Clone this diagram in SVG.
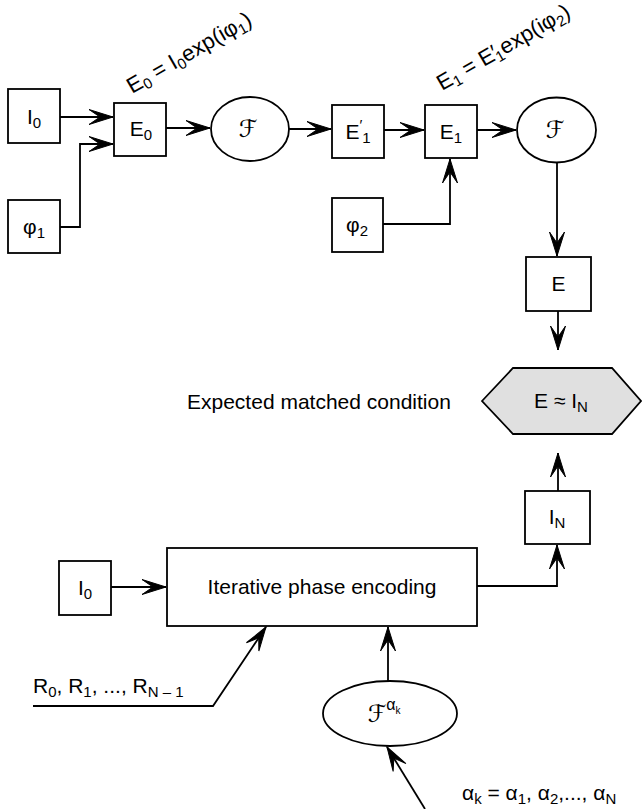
<svg xmlns="http://www.w3.org/2000/svg" width="642" height="809" viewBox="0 0 642 809">
<style>
.b{fill:#fff;stroke:#000;stroke-width:1.8}
.c{fill:none;stroke:#000;stroke-width:1.8}
.t{font-family:"Liberation Sans",Arial,sans-serif;font-size:21px;fill:#000}
.r{font-size:22px}
.tc{text-anchor:middle}
.f{font-family:"DejaVu Serif","DejaVu Sans",serif;font-style:italic;font-size:24px;fill:#000;text-anchor:middle}
.s{font-size:15px}
</style>
<defs>
<marker id="a" markerUnits="userSpaceOnUse" markerWidth="28" markerHeight="20" viewBox="-26 -10 28 20" refX="0" refY="0" orient="auto">
<path d="M0,0 L-24,-7.5 L-13,0 L-24,7.5 Z" fill="#000" stroke="#000" stroke-width="1" stroke-linejoin="miter"/>
</marker>
</defs>
<rect width="642" height="809" fill="#fff"/>
<g id="connectors">
<path class="c" d="M60,117 H113" marker-end="url(#a)"/>
<path class="c" d="M60,227 H80 V144 H113" marker-end="url(#a)"/>
<path class="c" d="M166,128 H210" marker-end="url(#a)"/>
<path class="c" d="M289,129 H331" marker-end="url(#a)"/>
<path class="c" d="M384,130 H424" marker-end="url(#a)"/>
<path class="c" d="M477,130 H516" marker-end="url(#a)"/>
<path class="c" d="M383,224 H450 V159" marker-end="url(#a)"/>
<path class="c" d="M557,163 V256" marker-end="url(#a)"/>
<path class="c" d="M558,311 V350" marker-end="url(#a)"/>
<path class="c" d="M558,491 V453" marker-end="url(#a)"/>
<path class="c" d="M477,586 H557 V545" marker-end="url(#a)"/>
<path class="c" d="M111,587 H166" marker-end="url(#a)"/>
<path class="c" d="M33,706 H213 L266,627" marker-end="url(#a)"/>
<path class="c" d="M388,681 V627" marker-end="url(#a)"/>
<path class="c" d="M425,809 L387,747" marker-end="url(#a)"/>
</g>
<g id="I0top">
<rect class="b" x="8" y="89" width="52" height="54"/>
<text class="t tc" x="34" y="124">I<tspan class="s" dy="4">0</tspan></text>
</g>
<g id="phi1">
<rect class="b" x="8" y="200" width="52" height="53"/>
<text class="t tc" x="34" y="234">φ<tspan class="s" dy="4">1</tspan></text>
</g>
<g id="E0">
<rect class="b" x="114" y="103" width="52" height="53"/>
<text class="t tc" x="141" y="136">E<tspan class="s" dy="4">0</tspan></text>
</g>
<g id="E0label">
<text class="t r" transform="translate(132,94) rotate(-30)">E<tspan class="s" dy="4">0</tspan><tspan dy="-4"> = I</tspan><tspan class="s" dy="4">0</tspan><tspan dy="-4">exp(iφ</tspan><tspan class="s" dy="4">1</tspan><tspan dy="-4">)</tspan></text>
</g>
<g id="F1">
<ellipse class="b" cx="250" cy="129" rx="39" ry="32"/>
<text class="f" x="248" y="137">ℱ</text>
</g>
<g id="E1p">
<rect class="b" x="332" y="105" width="52" height="53"/>
<text class="t tc" x="358" y="139">E<tspan class="s" dy="-9">′</tspan><tspan class="s" dy="13">1</tspan></text>
</g>
<g id="E1">
<rect class="b" x="425" y="105" width="52" height="53"/>
<text class="t tc" x="451" y="139">E<tspan class="s" dy="4">1</tspan></text>
</g>
<g id="E1label">
<text class="t r" transform="translate(442,91) rotate(-30)">E<tspan class="s" dy="4">1</tspan><tspan dy="-4"> = E′</tspan><tspan class="s" dx="-3" dy="4">1</tspan><tspan dy="-4">exp(iφ</tspan><tspan class="s" dy="4">2</tspan><tspan dy="-4">)</tspan></text>
</g>
<g id="F2">
<ellipse class="b" cx="556.5" cy="130" rx="39.5" ry="32.5"/>
<text class="f" x="555" y="138">ℱ</text>
</g>
<g id="phi2">
<rect class="b" x="332" y="198" width="51" height="54"/>
<text class="t tc" x="357" y="232">φ<tspan class="s" dy="4">2</tspan></text>
</g>
<g id="E">
<rect class="b" x="526" y="257" width="65" height="54"/>
<text class="t tc" x="558.5" y="291">E</text>
</g>
<g id="condition">
<polygon points="482,401 513,368 612,368 641,401 612,434 513,434" fill="#e0e0e0" stroke="#000" stroke-width="1.8"/>
<text class="t tc" x="561" y="408">E ≈ I<tspan class="s" dy="4">N</tspan></text>
</g>
<text class="t" x="187" y="409">Expected matched condition</text>
<g id="IN">
<rect class="b" x="525" y="491" width="65" height="53"/>
<text class="t tc" x="557" y="524">I<tspan class="s" dy="4">N</tspan></text>
</g>
<g id="encoding">
<rect class="b" x="167" y="548" width="310" height="78"/>
<text class="t tc" x="322" y="594">Iterative phase encoding</text>
</g>
<g id="I0bottom">
<rect class="b" x="59" y="561" width="52" height="54"/>
<text class="t tc" x="85" y="595">I<tspan class="s" dy="4">0</tspan></text>
</g>
<g id="Falpha">
<ellipse class="b" cx="390" cy="713.5" rx="67" ry="32.5"/>
<text class="f" x="384" y="722">ℱ<tspan font-style="normal" font-family="Liberation Sans,sans-serif" font-size="16" dy="-12">α</tspan><tspan font-style="normal" font-family="Liberation Sans,sans-serif" font-size="10" dy="4">k</tspan></text>
</g>
<text class="t" x="33" y="693">R<tspan class="s" dy="4">0</tspan><tspan dy="-4">, R</tspan><tspan class="s" dy="4">1</tspan><tspan dy="-4">, ..., R</tspan><tspan class="s" dy="4">N – 1</tspan></text>
<text class="t" x="462" y="800">α<tspan class="s" dy="4">k</tspan><tspan dy="-4"> = α</tspan><tspan class="s" dy="4">1</tspan><tspan dy="-4">, α</tspan><tspan class="s" dy="4">2</tspan><tspan dy="-4">,..., α</tspan><tspan class="s" dy="4">N</tspan></text>
</svg>
